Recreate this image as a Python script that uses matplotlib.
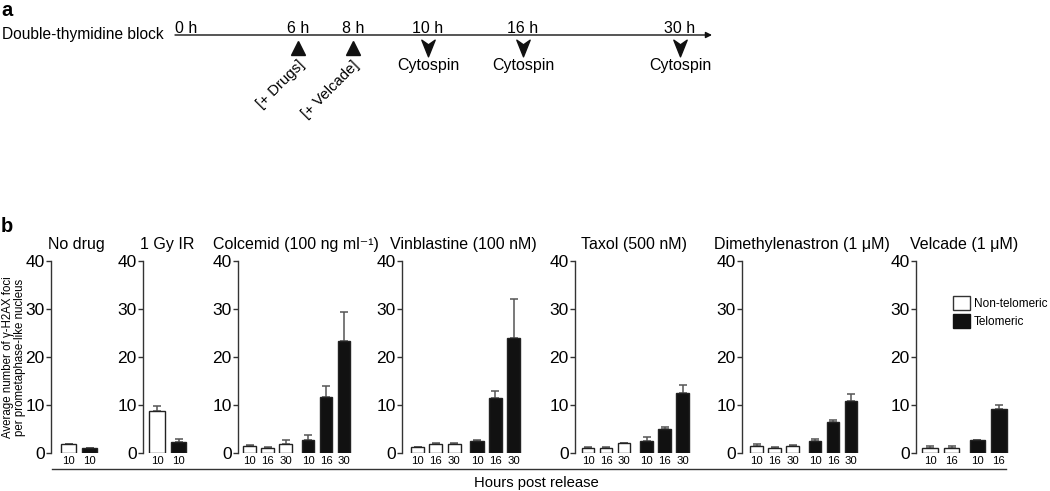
import numpy as np
import matplotlib.pyplot as plt
from matplotlib.patches import Patch
from matplotlib.path import Path
from matplotlib.lines import Line2D

plt.rcParams['font.family'] = ['Liberation Sans', 'DejaVu Sans']

W, H = 1050, 491

# ---- panel a: timeline ----
time_labels = ['0 h', '6 h', '8 h', '10 h', '16 h', '30 h']
add_labels = {'6 h': '[+ Drugs]', '8 h': '[+ Velcade]'}
spin_times = ['10 h', '16 h', '30 h']

# ---- panel b: gamma-H2AX foci ----
titles = ['No drug', '1 Gy IR', 'Colcemid (100 ng ml\u207b\u00b9)', 'Vinblastine (100 nM)',
          'Taxol (500 nM)', 'Dimethylenastron (1 \u03bcM)', 'Velcade (1 \u03bcM)']
hours = [
    ['10', '10'],
    ['10', '10'],
    ['10', '16', '30', '10', '16', '30'],
    ['10', '16', '30', '10', '16', '30'],
    ['10', '16', '30', '10', '16', '30'],
    ['10', '16', '30', '10', '16', '30'],
    ['10', '16', '10', '16'],
]
telomeric = [
    [0, 1],
    [0, 1],
    [0, 0, 0, 1, 1, 1],
    [0, 0, 0, 1, 1, 1],
    [0, 0, 0, 1, 1, 1],
    [0, 0, 0, 1, 1, 1],
    [0, 0, 1, 1],
]
no_drug = [1.8, 1.0]
no_drug_err = [0.1, 0.1]
gy_ir = [8.8, 2.3]
gy_ir_err = [0.9, 0.6]
colcemid = [1.5, 1.1, 1.9, 2.7, 11.7, 23.3]
colcemid_err = [0.1, 0.15, 0.8, 1.1, 2.3, 6.1]
vinblastine = [1.2, 1.8, 1.9, 2.5, 11.5, 24.0]
vinblastine_err = [0.1, 0.2, 0.1, 0.15, 1.5, 8.0]
taxol = [1.1, 1.05, 2.0, 2.5, 5.0, 12.4]
taxol_err = [0.15, 0.15, 0.1, 0.8, 0.45, 1.8]
dimeth = [1.5, 1.1, 1.4, 2.5, 6.4, 10.9]
dimeth_err = [0.45, 0.1, 0.2, 0.4, 0.5, 1.4]
velcade = [1.1, 1.0, 2.65, 9.2]
velcade_err = [0.4, 0.4, 0.15, 0.9]

means = [no_drug, gy_ir, colcemid, vinblastine, taxol, dimeth, velcade]
errs = [no_drug_err, gy_ir_err, colcemid_err, vinblastine_err, taxol_err, dimeth_err, velcade_err]

# layout (pixels)
spine_px = [51, 143, 238, 402, 575, 742, 916]
first_px = [68.5, 157, 249.5, 417.5, 588, 756.5, 930]
px_unit = [21, 21.5, 18, 18.3, 18, 18, 21.5]
slots = [
    [0, 1],
    [0, 1],
    [0, 1, 2, 3.25, 4.25, 5.25],
    [0, 1, 2, 3.25, 4.25, 5.25],
    [0, 1, 2, 3.25, 4.25, 5.25],
    [0, 1, 2, 3.25, 4.25, 5.25],
    [0, 1, 2.2, 3.2],
]
y0_px, y40_px = 453, 261

fig = plt.figure(figsize=(W / 100, H / 100), dpi=100)

# overlay axes in pixel coordinates for the diagram and shared text
ov = fig.add_axes([0, 0, 1, 1])
ov.set_xlim(0, W)
ov.set_ylim(H, 0)
ov.axis('off')

ov.text(1, 10, 'a', fontsize=14.5, fontweight='bold', va='center', ha='left')
ov.text(1, 227, 'b', fontsize=14.5, fontweight='bold', va='center', ha='left')
ov.text(2, 39, 'Double-thymidine block', fontsize=11.2, va='baseline', ha='left')

ov.annotate('', xy=(712, 35), xytext=(175, 35),
            arrowprops=dict(arrowstyle='-|>', lw=1, color='#111', mutation_scale=9,
                            shrinkA=0, shrinkB=0))
time_px = [186, 298, 353, 428, 523, 680]
notch = Path([(-0.4, 0.5), (0, 0.22), (0.4, 0.5), (0, -0.5), (-0.4, 0.5)],
             [Path.MOVETO, Path.LINETO, Path.LINETO, Path.LINETO, Path.CLOSEPOLY])
for lab, tx in zip(time_labels, time_px):
    ov.text(tx, 33, lab, fontsize=11.5, ha='center', va='baseline')
    if lab in add_labels:
        ov.plot(tx, 47.5, marker='^', ms=10, color='#111', mec='#111')
        ov.text(tx + 9, 58, add_labels[lab], fontsize=10.8, rotation=45,
                ha='right', va='top')
    if lab in spin_times:
        ov.plot(tx, 47.5, marker=notch, ms=12, color='#111', mec='#111')
        ov.text(tx, 65, 'Cytospin', fontsize=11.5, ha='center', va='center')

# panel b axes
for i in range(len(titles)):
    pos = np.array(slots[i])
    xmin = -(first_px[i] - spine_px[i]) / px_unit[i]
    xmax = pos[-1] + 0.6
    left = spine_px[i] / W
    width = (xmax - xmin) * px_unit[i] / W
    ax = fig.add_axes([left, (H - y0_px) / H, width, (y0_px - y40_px) / H])
    ax.patch.set_alpha(0)
    vals = np.array(means[i])
    err = np.array(errs[i])
    colors = ['#111111' if t else 'white' for t in telomeric[i]]
    ax.errorbar(pos, vals, yerr=[np.zeros_like(err), err], fmt='none',
                ecolor='#555555', elinewidth=1.1, capsize=3.2, capthick=1.1, zorder=1)
    ax.bar(pos, vals, width=0.72, color=colors, edgecolor='#222222', linewidth=1, zorder=2)
    ax.set_xlim(xmin, xmax)
    ax.set_ylim(0, 40)
    ax.set_yticks([0, 10, 20, 30, 40])
    ax.set_xticks(pos)
    ax.set_xticklabels(hours[i])
    ax.tick_params(axis='y', labelsize=12.5, length=3.5, width=1, color='#333333', pad=1)
    ax.tick_params(axis='x', labelsize=8.2, length=0, pad=2.5)
    for s in ['top', 'right', 'bottom']:
        ax.spines[s].set_visible(False)
    ax.spines['left'].set_color('#333333')
    ax.spines['left'].set_linewidth(1)
    ax.set_title(titles[i], fontsize=11.5, pad=8.5)
    if i == len(titles) - 1:
        handles = [Patch(facecolor='white', edgecolor='#333333', label='Non-telomeric'),
                   Patch(facecolor='#111111', edgecolor='#111111', label='Telomeric')]
        fig.legend(handles=handles, loc='upper left',
                   bbox_to_anchor=(953 / W, 1 - 296 / H), frameon=False,
                   fontsize=8.5, handlelength=1.4, handleheight=1.4,
                   handletextpad=0.35, labelspacing=0.4, borderpad=0,
                   borderaxespad=0)

ov.add_line(Line2D([52, 1006], [469, 469], color='#333333', lw=1))
ov.text(536, 483, 'Hours post release', fontsize=10.7, ha='center', va='center')
ov.text(14, 357, 'Average number of \u03b3-H2AX foci\nper prometaphase-like nucleus',
        fontsize=8.3, rotation=90, ha='center', va='center', multialignment='center',
        linespacing=1.1)

fig.savefig('out.png', dpi=100)
